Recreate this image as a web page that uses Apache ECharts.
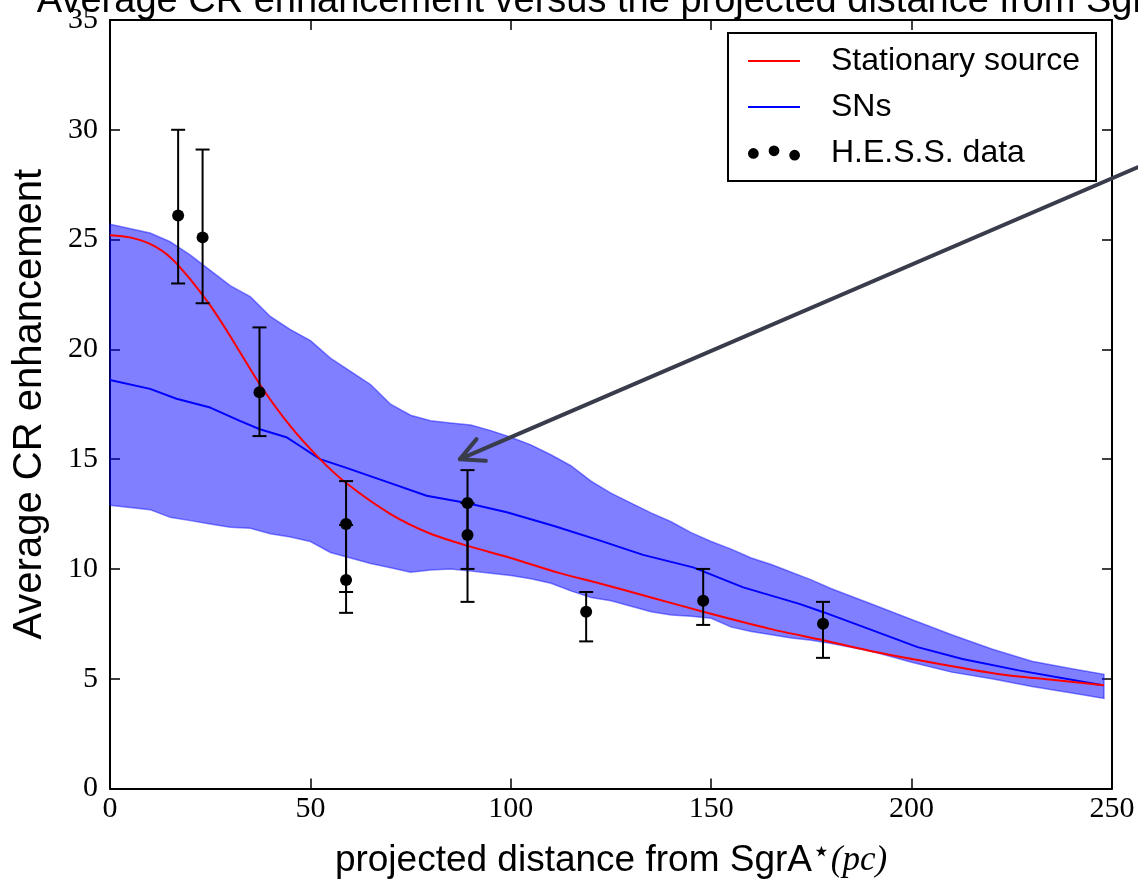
<!DOCTYPE html>
<html>
<head>
<meta charset="utf-8">
<script src="https://cdn.jsdelivr.net/npm/echarts@6/dist/echarts.min.js"></script>
<style>
  html, body { margin: 0; padding: 0; background: #fff; }
  #chart { width: 1138px; height: 884px; }
</style>
</head>
<body>
<div id="chart"></div>
<script>
// SNs spread band (upper / lower edge)
const bandX = [0, 10, 15, 20, 25, 30, 35, 40, 45, 50, 55, 60, 65, 70, 75, 80, 85, 90, 95, 100,
  105, 110, 115, 120, 125, 130, 135, 140, 145, 150, 155, 160, 165, 170, 175, 180, 190, 200,
  210, 220, 230, 240, 248]
const bandHigh = [25.7, 25.3, 24.9, 24.3, 23.6, 22.9, 22.4, 21.5, 20.9, 20.4, 19.6, 19.0, 18.4, 17.5,
  17.0, 16.75, 16.65, 16.55, 16.3, 16.0, 15.65, 15.2, 14.7, 14.0, 13.45, 13.0, 12.55, 12.15, 11.65,
  11.25, 10.9, 10.5, 10.2, 9.85, 9.5, 9.1, 8.4, 7.7, 7.0, 6.35, 5.8, 5.45, 5.2]
const bandLow = [12.9, 12.7, 12.35, 12.2, 12.05, 11.9, 11.85, 11.6, 11.45, 11.25, 10.75, 10.5, 10.25,
  10.05, 9.85, 9.95, 10.0, 9.9, 9.8, 9.7, 9.55, 9.35, 9.0, 8.7, 8.55, 8.3, 8.05, 7.9, 7.85, 7.75,
  7.35, 7.15, 7.0, 6.85, 6.75, 6.6, 6.25, 5.75, 5.3, 5.0, 4.65, 4.35, 4.1]

// SNs mean curve
const snsX = [0, 10, 16.6, 25, 32.4, 37.4, 44, 47.4, 52.4, 59, 70.7, 79, 89, 99, 110.6, 122.3, 133,
  145.5, 158, 172, 178, 189.3, 201.5, 212.7, 226.7, 247.7]
const snsY = [18.6, 18.2, 17.75, 17.35, 16.74, 16.36, 16.0, 15.6, 15.0, 14.6, 13.86, 13.33, 13.0, 12.58,
  11.97, 11.29, 10.64, 10.07, 9.16, 8.41, 8.03, 7.27, 6.44, 5.9, 5.38, 4.7]

// stationary source curve
const statX = [0, 5, 10, 15, 20, 25, 30, 37.4, 45, 52.4, 59, 70, 80, 89, 100, 112, 122, 135,
  148, 164.7, 178, 190, 201.5, 222, 235, 248]
const statY = [25.2, 25.1, 24.8, 24.2, 23.2, 22.0, 20.6, 18.4, 16.5, 15.0, 13.9, 12.5, 11.6, 11.06,
  10.5, 9.82, 9.35, 8.7, 8.05, 7.27, 6.75, 6.25, 5.85, 5.2, 4.95, 4.7]

// H.E.S.S. data points with error bars
const hessX = [17, 23.1, 37.3, 58.9, 58.9, 89.2, 89.2, 118.8, 148, 177.9]
const hessY = [26.1, 25.1, 18.05, 12.05, 9.5, 13.0, 11.55, 8.05, 8.55, 7.5]
const hessLow = [23.0, 22.1, 16.05, 8.95, 8.0, 10.0, 8.5, 6.7, 7.45, 5.95]
const hessHigh = [30.0, 29.1, 21.0, 14.0, 12.0, 14.5, 13.0, 8.95, 10.0, 8.5]

// annotation arrow (data coords): tail off the right edge, tip near the SNs curve
const arrowTail = [259, 28.5]
const arrowTip = [87.3, 15.0]

const chart = echarts.init(document.getElementById('chart'))

const frameAxis = {
  axisLine: { onZero: false, lineStyle: { color: '#000', width: 2 } },
  axisTick: { inside: true, length: 10, lineStyle: { color: '#000', width: 1.5 } },
  splitLine: { show: false },
}
const tickFont = { fontFamily: 'Liberation Serif', fontSize: 30, color: '#000' }
const lineIcon = 'path://M0,0h52v2h-52z'
const dotsIcon = 'path://M0,8a6,6 0 1,0 12,0a6,6 0 1,0 -12,0z' +
  'M23,5a6,6 0 1,0 12,0a6,6 0 1,0 -12,0z' +
  'M46,10a6,6 0 1,0 12,0a6,6 0 1,0 -12,0z'

const options = {
  animation: false,
  title: {
    text: 'Average CR enhancement versus the projected distance from SgrA*',
    left: 611,
    top: -17,
    padding: 0,
    textAlign: 'center',
    textStyle: { fontFamily: 'Liberation Sans', fontSize: 38, fontWeight: 'normal', color: '#000' },
  },
  grid: { left: 110, right: 26, top: 20, bottom: 94 },
  legend: {
    orient: 'vertical',
    left: 728,
    top: 33,
    data: [
      { name: 'Stationary source', icon: lineIcon },
      { name: 'SNs', icon: lineIcon },
      { name: 'H.E.S.S. data', icon: dotsIcon },
    ],
    itemWidth: 52,
    itemHeight: 16,
    itemGap: 14,
    padding: [12, 16, 12, 20],
    borderColor: '#000',
    borderWidth: 2,
    borderRadius: 0,
    backgroundColor: '#fff',
    textStyle: { fontFamily: 'Liberation Sans', fontSize: 32, color: '#000', padding: [0, 0, 0, 26] },
  },
  xAxis: [
    {
      type: 'value', min: 0, max: 250, interval: 50, position: 'bottom',
      ...frameAxis,
      axisLabel: { ...tickFont, margin: 6 },
      name: 'projected distance from SgrA{s|⋆}{m|(pc)}',
      nameLocation: 'middle',
      nameGap: 50,
      nameTextStyle: {
        fontFamily: 'Liberation Sans', fontSize: 37, color: '#000',
        rich: {
          s: { fontFamily: 'DejaVu Sans', fontSize: 30, color: '#000', padding: [0, 0, 14, 0] },
          m: { fontFamily: 'Liberation Serif', fontStyle: 'italic', fontSize: 35, color: '#000' },
        },
      },
    },
    {
      type: 'value', min: 0, max: 250, interval: 50, position: 'top',
      ...frameAxis,
      axisLabel: { show: false },
    },
  ],
  yAxis: [
    {
      type: 'value', min: 0, max: 35, interval: 5, position: 'left',
      ...frameAxis,
      axisLabel: { ...tickFont, margin: 12 },
      name: 'Average CR enhancement',
      nameLocation: 'middle',
      nameGap: 60,
      nameTextStyle: { fontFamily: 'Liberation Sans', fontSize: 40, color: '#000' },
    },
    {
      type: 'value', min: 0, max: 35, interval: 5, position: 'right',
      ...frameAxis,
      axisLabel: { show: false },
    },
  ],
  series: [
    {
      // filled spread of the SNs runs: one polygon, upper edge then lower edge back
      name: 'band',
      type: 'custom',
      data: bandX.map((x, i) => [x, bandLow[i], bandHigh[i]]),
      encode: { x: 0, y: [1, 2] },
      renderItem: (params, api) => {
        if (params.dataIndexInside !== 0) return null
        const n = params.dataInsideLength
        const top = []
        const bottom = []
        for (let i = 0; i < n; i++) {
          top.push(api.coord([api.value(0, i), api.value(2, i)]))
          bottom.push(api.coord([api.value(0, i), api.value(1, i)]))
        }
        return {
          type: 'polygon',
          shape: { points: top.concat(bottom.reverse()) },
          style: { fill: 'rgba(0,0,255,0.5)', stroke: 'rgba(0,0,255,0.45)', lineWidth: 1.5 },
        }
      },
      silent: true,
      z: 1,
    },
    {
      name: 'SNs',
      type: 'line',
      data: snsX.map((x, i) => [x, snsY[i]]),
      symbol: 'none',
      itemStyle: { color: '#0000ff' },
      lineStyle: { color: '#0000ff', width: 2 },
      z: 3,
    },
    {
      name: 'Stationary source',
      type: 'line',
      data: statX.map((x, i) => [x, statY[i]]),
      symbol: 'none',
      smooth: 0.25,
      itemStyle: { color: '#ff0000' },
      lineStyle: { color: '#ff0000', width: 2 },
      z: 4,
    },
    {
      name: 'errors',
      type: 'custom',
      data: hessX.map((x, i) => [x, hessLow[i], hessHigh[i]]),
      encode: { x: 0, y: [1, 2] },
      renderItem: (params, api) => {
        const lo = api.coord([api.value(0), api.value(1)])
        const hi = api.coord([api.value(0), api.value(2)])
        const cap = 7
        const style = { stroke: '#000', lineWidth: 2 }
        return {
          type: 'group',
          children: [
            { type: 'line', shape: { x1: lo[0], y1: lo[1], x2: hi[0], y2: hi[1] }, style },
            { type: 'line', shape: { x1: lo[0] - cap, y1: lo[1], x2: lo[0] + cap, y2: lo[1] }, style },
            { type: 'line', shape: { x1: hi[0] - cap, y1: hi[1], x2: hi[0] + cap, y2: hi[1] }, style },
          ],
        }
      },
      silent: true,
      z: 5,
    },
    {
      name: 'H.E.S.S. data',
      type: 'scatter',
      data: hessX.map((x, i) => [x, hessY[i]]),
      symbol: 'circle',
      symbolSize: 12,
      itemStyle: { color: '#000', opacity: 1 },
      z: 6,
    },
  ],
}

chart.setOption(options, true)

// arrow annotation, placed through the axes
const tip = chart.convertToPixel({ xAxisIndex: 0, yAxisIndex: 0 }, arrowTip)
const tail = chart.convertToPixel({ xAxisIndex: 0, yAxisIndex: 0 }, arrowTail)
const ang = Math.atan2(tail[1] - tip[1], tail[0] - tip[0])
const wing = 26
const spread = 27 * Math.PI / 180
const w1 = [tip[0] + wing * Math.cos(ang - spread), tip[1] + wing * Math.sin(ang - spread)]
const w2 = [tip[0] + wing * Math.cos(ang + spread), tip[1] + wing * Math.sin(ang + spread)]
const arrowStyle = { stroke: '#393c4b', lineWidth: 4, lineCap: 'round', lineJoin: 'round', fill: null }
chart.setOption({
  graphic: [
    { type: 'line', z: 100, shape: { x1: tip[0], y1: tip[1], x2: tail[0], y2: tail[1] }, style: arrowStyle },
    { type: 'polyline', z: 100, shape: { points: [w1, tip, w2] }, style: arrowStyle },
  ],
})
</script>
</body>
</html>
